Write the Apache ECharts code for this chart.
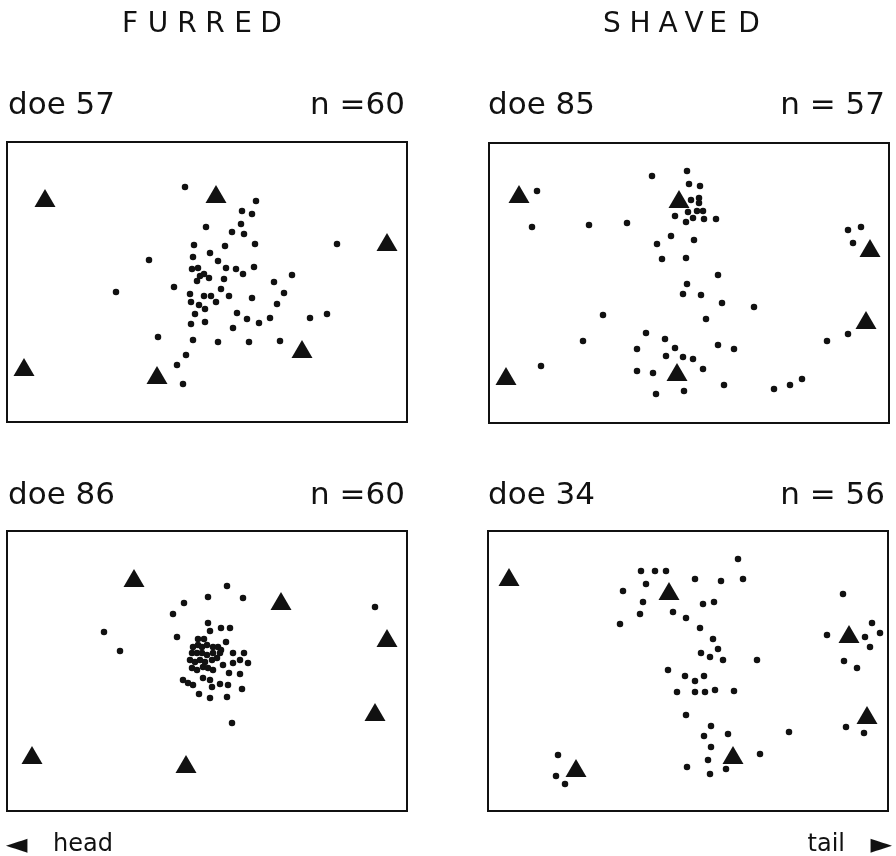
<!DOCTYPE html>
<html>
<head>
<meta charset="utf-8">
<script src="https://cdn.jsdelivr.net/npm/echarts@6/dist/echarts.min.js"></script>
<style>
html,body{margin:0;padding:0;background:#fff;}
#chart{width:896px;height:856px;}
</style>
</head>
<body>
<div id="chart"></div>
<script>
// Column titles and panel labels
const columnTitles = ['FURRED', 'SHAVED'];
const panelNames = ['doe 57', 'doe 85', 'doe 86', 'doe 34'];
const panelCounts = ['n =60', 'n = 57', 'n =60', 'n = 56'];
const axisLabels = ['head', 'tail'];

// Positions within each panel (x: 0-400 head->tail, y: 0-280 top->bottom)
const doe57Dots = [[178,45],[249,59],[235,69],[245,72],[234,82],[199,85],[225,90],[237,92],[248,102],[218,104],[187,103],[330,102],[186,115],[203,111],[142,118],[211,119],[185,127],[191,126],[219,126],[229,127],[247,125],[236,132],[285,133],[193,134],[197,132],[202,136],[190,139],[217,137],[267,140],[167,145],[214,147],[109,150],[183,152],[197,154],[204,154],[222,154],[245,156],[277,151],[209,160],[184,160],[192,163],[198,167],[270,162],[188,172],[230,171],[240,177],[252,181],[263,176],[303,176],[320,172],[184,182],[198,180],[226,186],[151,195],[186,198],[211,200],[242,200],[273,199],[179,213],[170,223],[176,242]];
const doe57Marks = [[38,56],[209,52],[380,100],[295,207],[17,225],[150,233]];

const doe85Dots = [[198,28],[163,33],[200,41],[211,43],[48,48],[202,57],[210,55],[210,60],[208,68],[214,68],[199,69],[186,73],[204,75],[197,79],[215,76],[227,76],[43,84],[100,82],[138,80],[359,87],[372,84],[364,100],[182,93],[205,97],[168,101],[173,116],[197,115],[229,132],[198,141],[194,151],[212,152],[233,160],[265,164],[114,172],[217,176],[157,190],[176,196],[94,198],[148,206],[186,205],[229,202],[245,206],[177,213],[194,214],[204,216],[52,223],[148,228],[164,230],[214,226],[167,251],[195,248],[235,242],[285,246],[301,242],[313,236],[338,198],[359,191]];
const doe85Marks = [[30,51],[190,56],[381,105],[377,177],[17,233],[188,229]];

const doe86Dots = [[220,55],[177,72],[201,66],[236,67],[166,83],[368,76],[97,101],[113,120],[170,106],[201,92],[203,100],[214,97],[223,97],[219,111],[191,108],[197,108],[225,192],[186,116],[191,114],[195,116],[200,114],[206,116],[211,116],[214,119],[185,122],[190,122],[195,122],[200,124],[206,122],[213,122],[226,122],[237,122],[183,129],[188,131],[193,129],[198,131],[205,129],[210,127],[216,134],[226,132],[233,129],[241,132],[185,137],[190,139],[196,136],[201,137],[206,139],[222,142],[233,143],[176,149],[181,152],[186,154],[196,147],[203,149],[213,153],[205,156],[221,154],[235,158],[192,163],[203,167],[220,166]];
const doe86Marks = [[127,47],[274,70],[380,107],[368,181],[25,224],[179,233]];

const doe34Dots = [[250,28],[153,40],[167,40],[178,40],[207,48],[233,50],[255,48],[158,53],[135,60],[155,71],[152,83],[215,73],[226,71],[185,81],[198,87],[132,93],[212,97],[225,108],[230,118],[213,122],[222,126],[235,129],[269,129],[180,139],[197,145],[207,150],[216,145],[189,161],[207,161],[217,161],[227,159],[246,160],[198,184],[223,195],[216,205],[240,203],[223,216],[220,229],[199,236],[222,243],[238,238],[272,223],[301,201],[70,224],[68,245],[77,253],[355,63],[384,92],[339,104],[377,106],[392,102],[382,116],[356,130],[369,137],[358,196],[376,202]];
const doe34Marks = [[21,46],[181,60],[361,103],[379,184],[88,237],[245,224]];

const chart = echarts.init(document.getElementById('chart'), null, {renderer: 'canvas'});

const gridBoxes = [
  {left: 7, top: 142},
  {left: 489, top: 143},
  {left: 7, top: 531},
  {left: 488, top: 531}
];
const dotSets = [doe57Dots, doe85Dots, doe86Dots, doe34Dots];
const markSets = [doe57Marks, doe85Marks, doe86Marks, doe34Marks];
const ink = '#111';

const grid = gridBoxes.map(b => ({
  left: b.left, top: b.top, width: 400, height: 280,
  show: true, borderColor: ink, borderWidth: 2, backgroundColor: 'transparent',
  containLabel: false
}));
const xAxis = gridBoxes.map((b, i) => ({type: 'value', gridIndex: i, min: 0, max: 400, show: false}));
const yAxis = gridBoxes.map((b, i) => ({type: 'value', gridIndex: i, min: 0, max: 280, inverse: true, show: false}));

const series = [];
for (let i = 0; i < 4; i++) {
  series.push({
    type: 'scatter', xAxisIndex: i, yAxisIndex: i, data: dotSets[i],
    symbol: 'circle', symbolSize: 6.5, itemStyle: {color: ink, opacity: 1}, silent: true
  });
  series.push({
    type: 'scatter', xAxisIndex: i, yAxisIndex: i, data: markSets[i],
    symbol: 'triangle', symbolSize: [21, 18], itemStyle: {color: ink, opacity: 1}, silent: true
  });
}

const family = '"DejaVu Sans", Lato, sans-serif';
function txt(x, y, text, size, align) {
  return {type: 'text', x: x, y: y, silent: true,
    style: {text: text, fontSize: size, fontFamily: family, fill: ink,
      align: align, verticalAlign: 'middle', textAlign: align, textVerticalAlign: 'middle'}};
}
const graphic = [];
// spaced column titles
const titleLetterX = [[130, 158, 187, 215, 243, 271], [612, 640, 668, 694, 718, 749]];
columnTitles.forEach((t, c) => {
  t.split('').forEach((ch, k) => {
    graphic.push(txt(titleLetterX[c][k], 25, ch, 28, 'center'));
  });
});
const labelRows = [106, 106, 496, 496];
const nameX = [8, 488, 8, 488];
const countX = [405, 885, 405, 885];
for (let i = 0; i < 4; i++) {
  graphic.push(txt(nameX[i], labelRows[i], panelNames[i], 31, 'left'));
  graphic.push(txt(countX[i], labelRows[i], panelCounts[i], 31, 'right'));
}
graphic.push(txt(6, 846, '\u25C4', 28, 'left'));
graphic.push(txt(53, 845, axisLabels[0], 24, 'left'));
graphic.push(txt(845, 845, axisLabels[1], 24, 'right'));
graphic.push(txt(892, 846, '\u25BA', 28, 'right'));

chart.setOption({
  animation: false,
  backgroundColor: '#fff',
  grid, xAxis, yAxis, series, graphic
});
</script>
</body>
</html>
